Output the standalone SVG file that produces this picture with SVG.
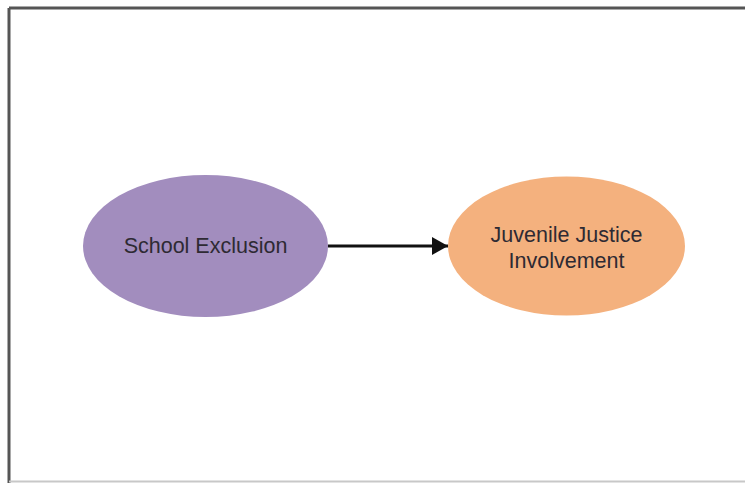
<svg xmlns="http://www.w3.org/2000/svg" width="745" height="483" viewBox="0 0 745 483">
<style>
.lbl{font-family:"Liberation Sans",Arial,sans-serif;font-size:21.5px;fill:#2e2a33;text-anchor:middle}
</style>
<defs>
<marker id="ah" viewBox="0 0 16 18" refX="16" refY="9" markerWidth="16" markerHeight="18" markerUnits="userSpaceOnUse" orient="auto">
<path d="M0,0 L16,9 L0,18 Z" fill="#111"/>
</marker>
</defs>
<rect x="0" y="0" width="745" height="483" fill="#ffffff"/>
<g id="frame">
<line x1="9" y1="8" x2="745" y2="8" stroke="#555" stroke-width="3"/>
<line x1="9" y1="8" x2="9" y2="483" stroke="#555" stroke-width="3"/>
<line x1="9" y1="481.5" x2="745" y2="481.5" stroke="#c8c8c8" stroke-width="2"/>
</g>
<g id="connectors">
<line x1="328" y1="246" x2="448" y2="246" stroke="#111" stroke-width="3" marker-end="url(#ah)"/>
</g>
<g id="school-exclusion">
<ellipse cx="205.5" cy="246" rx="122.5" ry="71" fill="#a28dbe"/>
<text class="lbl" x="205.5" y="253">School Exclusion</text>
</g>
<g id="juvenile-justice">
<ellipse cx="566.5" cy="246" rx="118.5" ry="69.5" fill="#f4b17e"/>
<text class="lbl" x="566.5" y="242">Juvenile Justice</text>
<text class="lbl" x="566.5" y="268">Involvement</text>
</g>
</svg>
